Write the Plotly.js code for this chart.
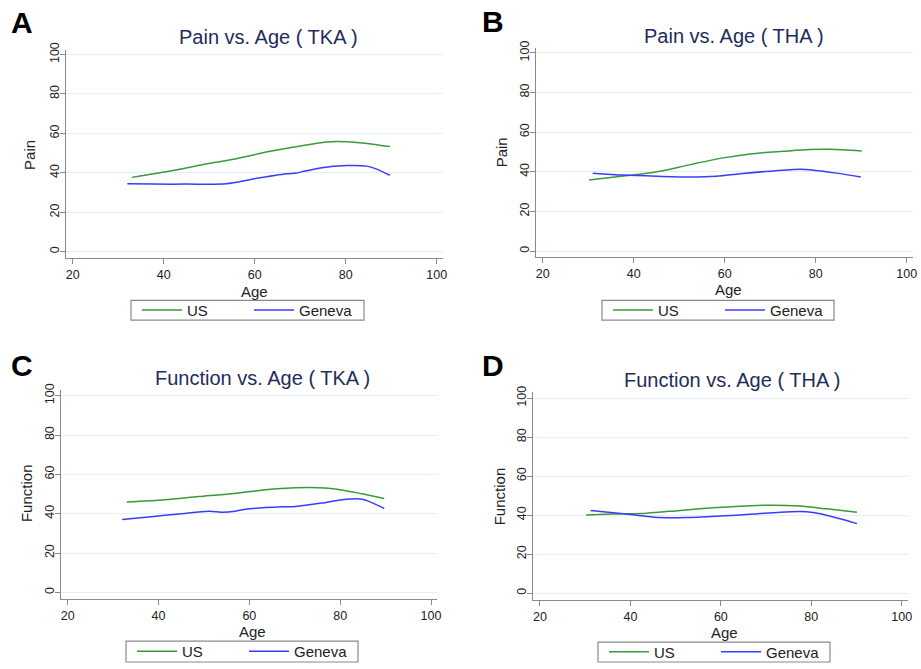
<!DOCTYPE html>
<html>
<head>
<meta charset="utf-8">
<script src="https://cdn.plot.ly/plotly-3.0.1.min.js"></script>
<style>
html,body{margin:0;padding:0;background:#fff;}
#chart{width:921px;height:669px;}
</style>
</head>
<body>
<div id="chart"></div>
<script>
// ---------- DATA ----------
const ageTicks = [20, 40, 60, 80, 100];
const scoreTicks = [0, 20, 40, 60, 80, 100];
const seriesNames = ["US", "Geneva"];
const panelLetters = ["A", "B", "C", "D"];
const panelTitles = ["Pain vs. Age ( TKA )", "Pain vs. Age ( THA )", "Function vs. Age ( TKA )", "Function vs. Age ( THA )"];
const yTitles = ["Pain", "Pain", "Function", "Function"];

// Panel A: Pain, TKA
const A_age_us = [33, 41.4, 48.7, 56, 63.4, 70.7, 75.8, 78, 83.1, 89.7];
const A_us     = [37.7, 40.9, 44.2, 47.2, 50.9, 53.9, 55.6, 55.9, 55.3, 53.3];
const A_age_gv = [32, 37.7, 45, 53.8, 59.7, 67, 69.2, 70.3, 74.4, 80.2, 84.6, 86.8, 89.7];
const A_gv     = [34.5, 34.3, 34.3, 34.5, 36.9, 39.5, 39.9, 40.5, 42.5, 43.7, 43.4, 41.9, 38.8];

// Panel B: Pain, THA
const B_age_us = [30.2, 37.7, 45.1, 52.4, 59.7, 65.6, 72.9, 78.7, 83.1, 90.1];
const B_us     = [35.8, 37.8, 40.0, 43.6, 47.0, 49.0, 50.3, 51.2, 51.3, 50.5];
const B_age_gv = [31, 37.7, 45.1, 52.4, 58.2, 63.4, 70, 76.5, 79.5, 84.6, 89.9];
const B_gv     = [39.3, 38.3, 37.7, 37.3, 37.7, 39.0, 40.3, 41.2, 40.8, 39.3, 37.3];

// Panel C: Function, TKA
const C_age_us = [33, 41.4, 48.8, 56.1, 61.3, 67.1, 73, 76.7, 80.4, 84.8, 89.7];
const C_us     = [45.9, 47.1, 48.7, 50.2, 51.6, 52.8, 53.3, 53.1, 52.1, 50.1, 47.7];
const C_age_gv = [32, 37.8, 45.1, 51, 53.9, 56.9, 59.1, 67.1, 70.1, 75.9, 80.4, 84.8, 86.2, 89.7];
const C_gv     = [37.1, 38.3, 40.0, 41.2, 40.8, 41.3, 42.3, 43.5, 43.7, 45.4, 47.1, 47.4, 46.4, 42.7];

// Panel D: Function, THA
const D_age_us = [30.2, 36.2, 43.6, 51, 58.3, 65.7, 71.6, 77.5, 83.4, 90.1];
const D_us     = [40.0, 40.5, 41.0, 42.4, 43.7, 44.7, 45.1, 44.6, 43.2, 41.5];
const D_age_gv = [31.2, 36.2, 40.6, 46.5, 52.5, 59.8, 67.2, 73.1, 79, 82, 86.4, 90.1];
const D_gv     = [42.4, 41.2, 40.2, 38.7, 38.7, 39.5, 40.5, 41.5, 41.7, 40.7, 38.1, 35.6];

// ---------- LAYOUT HELPERS ----------
const W = 921, H = 669;
const fx = p => p / W;
const fy = p => 1 - p / H;
const FONT = "Liberation Sans, Arial, sans-serif";
const GREEN = "#3a9a3a", BLUE = "#3b3bff";

const panels = [
  {ux: A_age_us, uy: A_us, gx: A_age_gv, gy: A_gv,
   dom: [66, 443, 50, 260], xr: [18.53, 101.38], yr: [-3.0, 102.5],
   letter: [22, 23], title: [268, 37], xt: [254.7, 294], yt: [29.3, 156], box: [131, 364, 303, 323]},
  {ux: B_age_us, uy: B_us, gx: B_age_gv, gy: B_gv,
   dom: [536, 912.7, 48, 259], xr: [18.53, 101.3], yr: [-2.85, 102.65],
   letter: [493, 22], title: [734, 36], xt: [728, 292], yt: [501.7, 154], box: [602, 834, 303, 323]},
  {ux: C_age_us, uy: C_us, gx: C_age_gv, gy: C_gv,
   dom: [61, 436.7, 393.3, 604.3], xr: [18.52, 101.25], yr: [-3.3, 103.0],
   letter: [22, 369], title: [262.5, 381.7], xt: [252.8, 637.5], yt: [26, 497.5], box: [126, 358, 647, 668]},
  {ux: D_age_us, uy: D_us, gx: D_age_gv, gy: D_gv,
   dom: [533.3, 908.3, 396, 605.7], xr: [18.52, 101.46], yr: [-3.7, 102.9],
   letter: [493, 369], title: [732, 383.3], xt: [724.7, 638.5], yt: [499.3, 500.5], box: [598, 830, 648, 668]}
];

const data = [];
const layout = {
  width: W, height: H,
  margin: {l: 0, r: 0, t: 0, b: 0},
  paper_bgcolor: "#fff", plot_bgcolor: "#fff",
  font: {family: FONT, color: "#222"},
  annotations: [],
  shapes: [],
  showlegend: true
};

panels.forEach((p, i) => {
  const n = i === 0 ? "" : String(i + 1);
  const xa = "x" + n, ya = "y" + n;
  const legName = i === 0 ? "legend" : "legend" + (i + 1);
  data.push({
    type: "scatter", mode: "lines", x: p.ux, y: p.uy, name: seriesNames[0],
    xaxis: xa, yaxis: ya, legend: legName,
    line: {color: GREEN, width: 1.5, shape: "spline", smoothing: 0.8}
  });
  data.push({
    type: "scatter", mode: "lines", x: p.gx, y: p.gy, name: seriesNames[1],
    xaxis: xa, yaxis: ya, legend: legName,
    line: {color: BLUE, width: 1.5, shape: "spline", smoothing: 0.8}
  });
  const axCommon = {
    showline: true, linecolor: "#8a8a8a", linewidth: 1.2,
    ticks: "outside", ticklen: 5, tickcolor: "#8a8a8a", tickwidth: 1,
    zeroline: false, fixedrange: true,
    tickfont: {family: FONT, size: 12.5, color: "#222"}
  };
  layout["xaxis" + n] = Object.assign({}, axCommon, {
    domain: [fx(p.dom[0]), fx(p.dom[1])], range: p.xr, anchor: ya,
    tickmode: "array", tickvals: ageTicks, showgrid: false
  });
  layout["yaxis" + n] = Object.assign({}, axCommon, {
    domain: [fy(p.dom[3]), fy(p.dom[2])], range: p.yr, anchor: xa,
    tickmode: "array", tickvals: scoreTicks, tickangle: -90,
    ticklabelstandoff: -4,
    showgrid: true, gridcolor: "#e6eff1", gridwidth: 1
  });
  const b = p.box;
  layout[legName] = {
    orientation: "h", x: fx(b[0] + 6), y: fy((b[2] + b[3]) / 2),
    xanchor: "left", yanchor: "middle",
    xref: "paper", yref: "paper",
    borderwidth: 0, bgcolor: "rgba(0,0,0,0)",
    font: {family: FONT, size: 15, color: "#222"},
    itemwidth: 40, entrywidth: 57, entrywidthmode: "pixels",
    tracegroupgap: 0
  };
  layout.shapes.push({
    type: "rect", xref: "paper", yref: "paper",
    x0: fx(b[0]), x1: fx(b[1]), y0: fy(b[3]), y1: fy(b[2]),
    line: {color: "#8a8a8a", width: 1.2}, fillcolor: "rgba(0,0,0,0)", layer: "below"
  });
  layout.annotations.push(
    {text: "<b>" + panelLetters[i] + "</b>", xref: "paper", yref: "paper",
     x: fx(p.letter[0]), y: fy(p.letter[1]), xanchor: "center", yanchor: "middle",
     showarrow: false, font: {family: FONT, size: 30, color: "#000"}},
    {text: panelTitles[i], xref: "paper", yref: "paper",
     x: fx(p.title[0]), y: fy(p.title[1]), xanchor: "center", yanchor: "middle",
     showarrow: false, font: {family: FONT, size: 20, color: "#1e2d5a"}},
    {text: "Age", xref: "paper", yref: "paper",
     x: fx(p.xt[0]), y: fy(p.xt[1]), xanchor: "center", yanchor: "middle",
     showarrow: false, borderpad: 0, font: {family: FONT, size: 15, color: "#222"}},
    {text: yTitles[i], xref: "paper", yref: "paper", textangle: -90,
     x: fx(p.yt[0]), y: fy(p.yt[1]), xanchor: "center", yanchor: "middle",
     showarrow: false, font: {family: FONT, size: 15, color: "#222"}}
  );
});

Plotly.newPlot("chart", data, layout, {displayModeBar: false, staticPlot: true});
</script>
</body>
</html>
